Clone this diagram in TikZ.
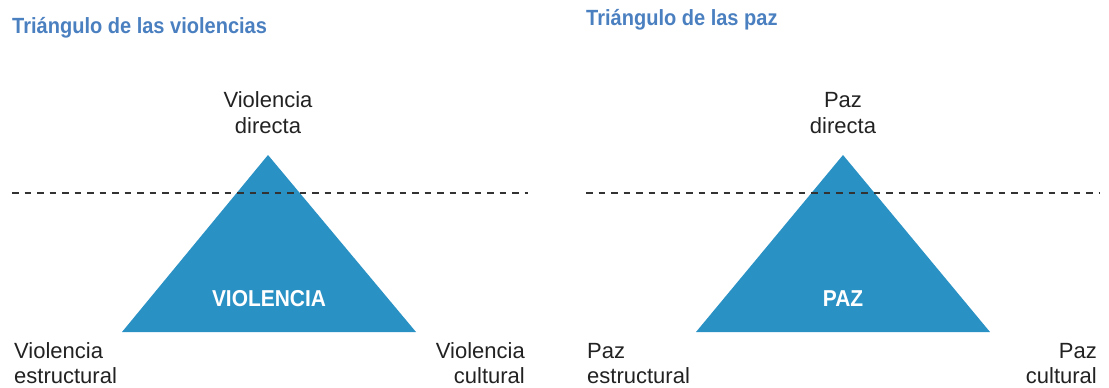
\documentclass[tikz,border=0pt]{standalone}
\usepackage{fontspec}
\setmainfont{Liberation Sans}
\newfontfamily\condsans[FakeStretch=0.91]{Liberation Sans}
\definecolor{triblue}{HTML}{2A91C4}
\definecolor{titleblue}{HTML}{4A7FC0}
\definecolor{txt}{HTML}{222222}
\definecolor{dash}{HTML}{333333}
\begin{document}
\begin{tikzpicture}[x=1pt,y=-1pt,
  title/.style={anchor=base west,inner sep=0pt,font=\condsans\fontsize{22}{26}\selectfont\bfseries,text=titleblue},
  lab/.style={inner sep=0pt,font=\fontsize{22}{26}\selectfont,text=txt},
  inlab/.style={inner sep=0pt,anchor=base,font=\condsans\fontsize{23}{26}\selectfont\bfseries,text=white},
  tri/.style={fill=triblue},
  horizon/.style={draw=dash,line width=2pt,dash pattern=on 6.5pt off 6pt}]
\useasboundingbox (0,0) rectangle (1109,388);
% titles
\node[title] (t1) at (12,33) {Triángulo de las violencias};
\node[title] (t2) at (586,25) {Triángulo de las paz};
% triangles
\coordinate (a1) at (268,155); \coordinate (b1) at (122,332); \coordinate (c1) at (416,332);
\coordinate (a2) at (843,155); \coordinate (b2) at (696,332); \coordinate (c2) at (990,332);
\fill[tri] (a1) -- (b1) -- (c1) -- cycle;
\fill[tri] (a2) -- (b2) -- (c2) -- cycle;
% dashed lines
\coordinate (d1s) at (12,193); \coordinate (d1e) at (528,193);
\coordinate (d2s) at (586,193); \coordinate (d2e) at (1100,193);
\draw[horizon] (d1s) -- (d1e);
\draw[horizon] (d2s) -- (d2e);
% inner labels
\node[inlab] (v) at (269,306) {VIOLENCIA};
\node[inlab] (p) at (843,306) {PAZ};
% top labels
\node[lab,anchor=base] (vd1) at (268,107) {Violencia};
\node[lab,anchor=base] (vd2) at (268,133) {directa};
\node[lab,anchor=base] (pd1) at (843,107) {Paz};
\node[lab,anchor=base] (pd2) at (843,133) {directa};
% bottom labels
\node[lab,anchor=base west] (ve1) at (14,358) {Violencia};
\node[lab,anchor=base west] (ve2) at (14,383) {estructural};
\node[lab,anchor=base east] (vc1) at (525,358) {Violencia};
\node[lab,anchor=base east] (vc2) at (525,383) {cultural};
\node[lab,anchor=base west] (pe1) at (587,358) {Paz};
\node[lab,anchor=base west] (pe2) at (587,383) {estructural};
\node[lab,anchor=base east] (pc1) at (1097,358) {Paz};
\node[lab,anchor=base east] (pc2) at (1097,383) {cultural};
\end{tikzpicture}
\end{document}
